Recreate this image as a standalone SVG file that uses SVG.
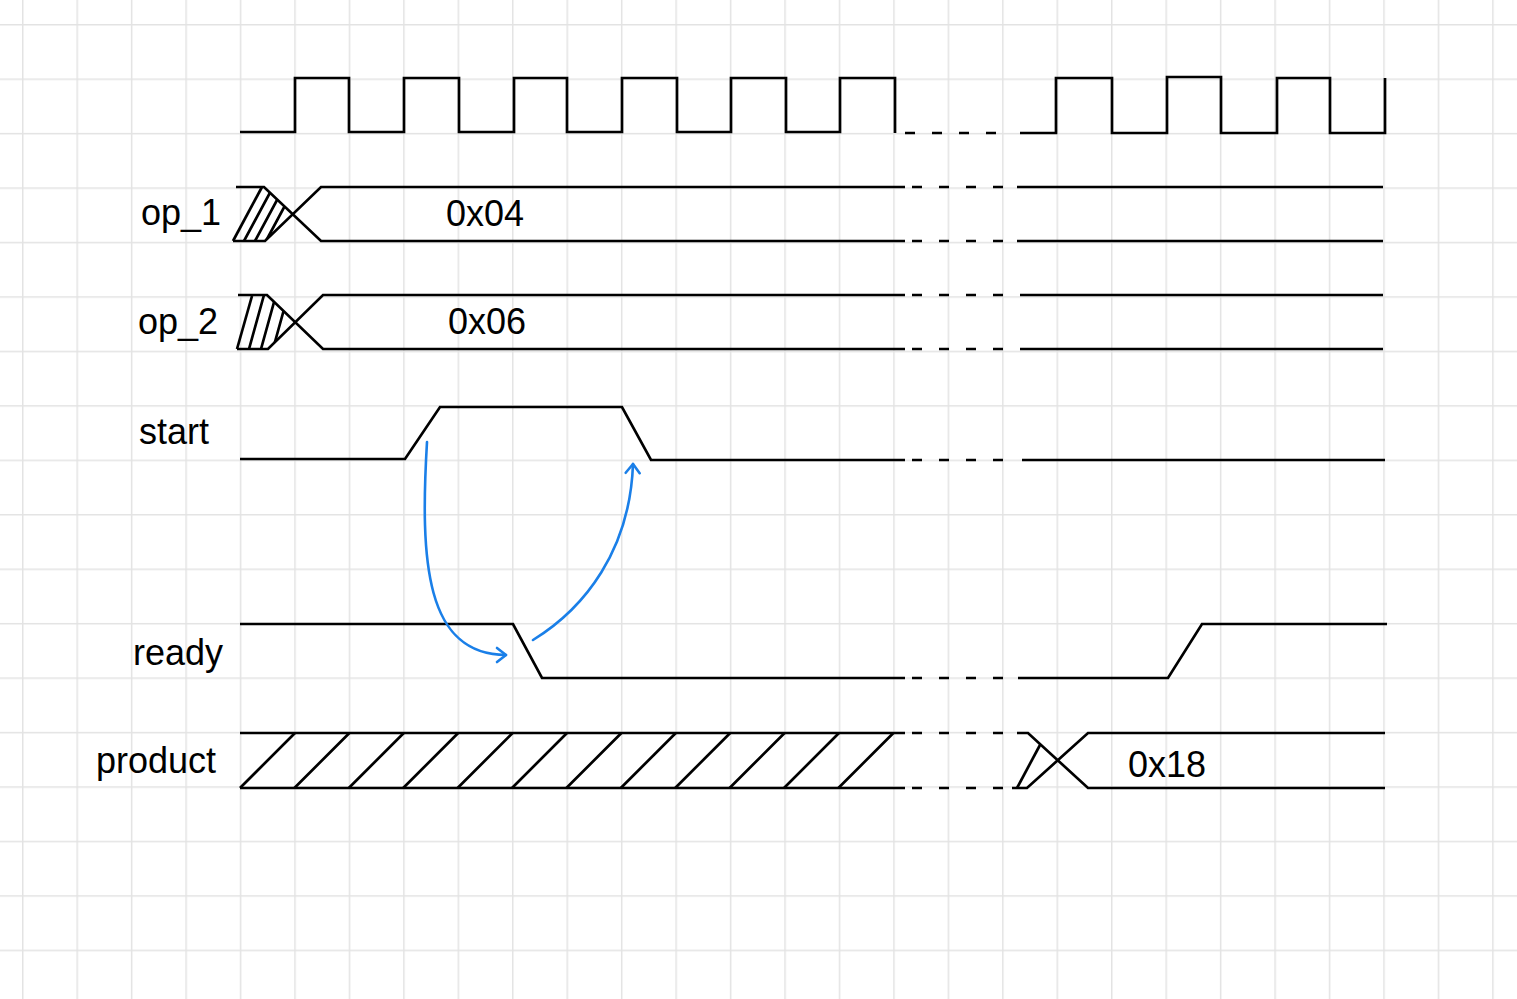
<svg xmlns="http://www.w3.org/2000/svg" width="1517" height="999" viewBox="0 0 1517 999">
<style>
.sig{fill:none;stroke:#000;stroke-width:2.7;stroke-linejoin:miter}
.dash{fill:none;stroke:#000;stroke-width:2.5;stroke-dasharray:10 17}
.lbl{font-family:"Liberation Sans",Arial,sans-serif;font-size:36px;fill:#000}
.arr{fill:none;stroke:#1a7fe8;stroke-width:2.6;stroke-linecap:round}
</style>
<defs>
<pattern id="grid" patternUnits="userSpaceOnUse" x="22" y="24" width="54.45" height="54.45">
<path d="M0.75,0 V54.45 M0,0.75 H54.45" stroke="#e3e3e3" stroke-width="1.5" fill="none"/>
</pattern>
<marker id="ah" markerUnits="userSpaceOnUse" markerWidth="24" markerHeight="24" refX="12" refY="12" orient="auto" viewBox="0 0 24 24">
<path d="M3,5 L12,12 L3,19" fill="none" stroke="#1a7fe8" stroke-width="2.6" stroke-linecap="round" stroke-linejoin="round"/>
</marker>
<clipPath id="c1"><polygon points="233,241 262,187 264,187 292.5,214 265,241"/></clipPath>
<clipPath id="c2"><polygon points="237,349 252,295 267,295 295,322 268,349"/></clipPath>
</defs>
<rect x="0" y="0" width="1517" height="999" fill="#fff"/>
<rect x="0" y="0" width="1517" height="999" fill="url(#grid)"/>

<g id="clk">
<path class="sig" d="M240,132 H295 V78 H349 V132 H404 V78 H459 V132 H514 V78 H567 V132 H622 V78 H677 V132 H731 V78 H786 V132 H840 V78 H895 V133"/>
<path class="dash" d="M905,133 H1012"/>
<path class="sig" d="M1020,133 H1056 V78 H1112 V133 H1167 V77 H1221 V133 H1277 V78 H1330 V133 H1385 V78"/>
</g>

<g id="op_1">
<text class="lbl" x="141" y="225">op_1</text>
<path class="sig" d="M236,187 H264 L321,241 H905"/>
<path class="sig" d="M233,241 H265 L321,187 H905"/>
<path class="sig" d="M233,241 L262,187"/>
<g clip-path="url(#c1)"><path class="sig" d="M244,241 L273,187 M255,241 L284,187 M266,241 L295,187"/></g>
<path class="dash" d="M912,187 H1010 M912,241 H1010"/>
<path class="sig" d="M1017,187 H1383 M1017,241 H1383"/>
<text class="lbl" x="446" y="226">0x04</text>
</g>

<g id="op_2">
<text class="lbl" x="138" y="334">op_2</text>
<path class="sig" d="M238,295 H267 L323,349 H905"/>
<path class="sig" d="M237,349 H268 L323,295 H905"/>
<path class="sig" d="M237,349 L252,296"/>
<g clip-path="url(#c2)"><path class="sig" d="M249,349 L264,295 M261,349 L276,295 M273,349 L288,295"/></g>
<path class="dash" d="M912,295 H1013 M912,349 H1013"/>
<path class="sig" d="M1020,295 H1383 M1020,349 H1383"/>
<text class="lbl" x="448" y="334">0x06</text>
</g>

<g id="start">
<text class="lbl" x="139" y="444">start</text>
<path class="sig" d="M240,459 H405 L440,407 H622 L651,460 H905"/>
<path class="dash" d="M912,460 H1015"/>
<path class="sig" d="M1022,460 H1385"/>
</g>

<g id="ready">
<text class="lbl" x="133" y="665">ready</text>
<path class="sig" d="M240,624 H513 L542,678 H905"/>
<path class="dash" d="M912,678 H1012"/>
<path class="sig" d="M1018,678 H1168 L1202,624 H1387"/>
</g>

<g id="product">
<text class="lbl" x="96" y="773">product</text>
<path class="sig" d="M240,733 H905 M240,788 H905"/>
<path class="sig" d="M240,788 L295,733 M294.4,788 L349.4,733 M348.8,788 L403.8,733 M403.2,788 L458.2,733 M457.6,788 L512.6,733 M512,788 L567,733 M566.4,788 L621.4,733 M620.8,788 L675.8,733 M675.2,788 L730.2,733 M729.6,788 L784.6,733 M784,788 L839,733 M838.4,788 L893.4,733"/>
<path class="dash" d="M912,733 H1010 M912,788 H1005"/>
<path class="sig" d="M1017,733 H1028 L1088,788 H1385"/>
<path class="sig" d="M1012,788 H1027 L1088,733 H1385"/>
<path class="sig" d="M1017,788 L1040,745"/>
<text class="lbl" x="1128" y="777">0x18</text>
</g>

<g id="connectors">
<path class="arr" d="M427,442 C420,560 425,655 506,655" marker-end="url(#ah)"/>
<path class="arr" d="M533,640 C585,608 630,550 633,464" marker-end="url(#ah)"/>
</g>
</svg>
